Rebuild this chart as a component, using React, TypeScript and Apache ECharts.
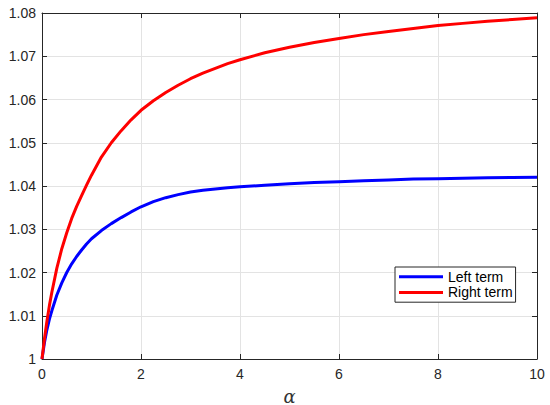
import React, { useEffect, useRef } from "react";
import * as echarts from "echarts";

const alphaValues = [0, 0.05, 0.1, 0.15, 0.2, 0.3, 0.4, 0.5, 0.6, 0.7, 0.8, 0.9, 1, 1.2, 1.4, 1.6, 1.8, 2, 2.25, 2.5, 2.75, 3, 3.25, 3.5, 3.75, 4, 4.5, 5, 5.5, 6, 6.5, 7, 7.5, 8, 8.5, 9, 9.5, 10];
const leftTerm = [1.0, 1.0038, 1.0068, 1.0092, 1.0112, 1.0148, 1.0176, 1.02, 1.022, 1.0237, 1.0252, 1.0266, 1.0278, 1.0297, 1.0313, 1.0327, 1.034, 1.0352, 1.0364, 1.0373, 1.038, 1.0386, 1.039, 1.0393, 1.0396, 1.0398, 1.0402, 1.0405, 1.0408, 1.041, 1.0412, 1.0414, 1.0416, 1.0417, 1.0418, 1.0419, 1.04195, 1.042];
const rightTerm = [1.0, 1.0047, 1.0088, 1.0124, 1.0155, 1.021, 1.0255, 1.0292, 1.0325, 1.0353, 1.0378, 1.0402, 1.0425, 1.0467, 1.05, 1.0528, 1.0553, 1.0575, 1.0597, 1.0616, 1.0633, 1.0648, 1.0661, 1.0672, 1.0683, 1.0692, 1.0708, 1.0721, 1.0732, 1.0741, 1.075, 1.0757, 1.0764, 1.0771, 1.0776, 1.0781, 1.0785, 1.0789];
const seriesNames = ["Left term", "Right term"];
const xTickLabels = ["0", "2", "4", "6", "8", "10"];
const yTickLabels = ["1", "1.01", "1.02", "1.03", "1.04", "1.05", "1.06", "1.07", "1.08"];

const FONT = "'Liberation Sans', Arial, Helvetica, sans-serif";
const AXIS_COLOR = "#262626";
const GRID_COLOR = "#e3e3e3";

export default function App() {
  const ref = useRef<HTMLDivElement>(null);
  useEffect(() => {
    if (!ref.current) return;
    const chart = echarts.init(ref.current, undefined, { renderer: "svg" });
    const axisLine = { show: true, onZero: false, lineStyle: { color: AXIS_COLOR, width: 1 } };
    const tick = { show: true, inside: true, length: 5, lineStyle: { color: AXIS_COLOR, width: 1 } };
    const split = { show: true, lineStyle: { color: GRID_COLOR, width: 1 } };
    chart.setOption({
      animation: false,
      backgroundColor: "#ffffff",
      grid: { left: 42, right: 13, top: 13, bottom: 46, containLabel: false, outerBoundsMode: "none" },
      legend: {
        data: seriesNames,
        orient: "vertical",
        left: 395,
        top: 267,
        padding: [2, 3, 2, 4],
        itemGap: 0,
        itemWidth: 44,
        itemHeight: 3,
        icon: "rect",
        backgroundColor: "#ffffff",
        borderColor: AXIS_COLOR,
        borderWidth: 1,
        borderRadius: 0,
        textStyle: { fontFamily: FONT, fontSize: 14, color: "#000", lineHeight: 15.6 },
      },
      xAxis: [
        {
          type: "value",
          min: 0,
          max: 10,
          interval: 2,
          position: "bottom",
          axisLine,
          axisTick: tick,
          splitLine: split,
          axisLabel: {
            margin: 8,
            fontFamily: FONT,
            fontSize: 14,
            color: AXIS_COLOR,
            formatter: (v: number) => xTickLabels[Math.round(v / 2)],
          },
          name: "α",
          nameLocation: "middle",
          nameGap: 28,
          nameTextStyle: { fontFamily: "'DejaVu Serif', serif", fontStyle: "italic", fontSize: 18, color: "#333333" },
        },
        {
          type: "value",
          min: 0,
          max: 10,
          interval: 2,
          position: "top",
          axisLine,
          axisTick: tick,
          splitLine: { show: false },
          axisLabel: { show: false },
        },
      ],
      yAxis: [
        {
          type: "value",
          min: 1,
          max: 1.08,
          interval: 0.01,
          position: "left",
          axisLine,
          axisTick: tick,
          splitLine: split,
          axisLabel: {
            margin: 6,
            fontFamily: FONT,
            fontSize: 14,
            color: AXIS_COLOR,
            formatter: (v: number) => yTickLabels[Math.round((v - 1) / 0.01)],
          },
        },
        {
          type: "value",
          min: 1,
          max: 1.08,
          interval: 0.01,
          position: "right",
          axisLine,
          axisTick: tick,
          splitLine: { show: false },
          axisLabel: { show: false },
        },
      ],
      series: [
        {
          name: seriesNames[0],
          type: "line",
          data: alphaValues.map((a, i) => [a, leftTerm[i]]),
          smooth: false,
          symbol: "none",
          color: "#0000ff",
          lineStyle: { color: "#0000ff", width: 3, join: "round" },
          z: 3,
        },
        {
          name: seriesNames[1],
          type: "line",
          data: alphaValues.map((a, i) => [a, rightTerm[i]]),
          smooth: false,
          symbol: "none",
          color: "#ff0000",
          lineStyle: { color: "#ff0000", width: 3, join: "round" },
          z: 4,
        },
      ],
    });
    return () => chart.dispose();
  }, []);
  return (
    <div
      ref={ref}
      style={{ position: "absolute", left: 0, top: 0, width: 550, height: 405 }}
    />
  );
}
